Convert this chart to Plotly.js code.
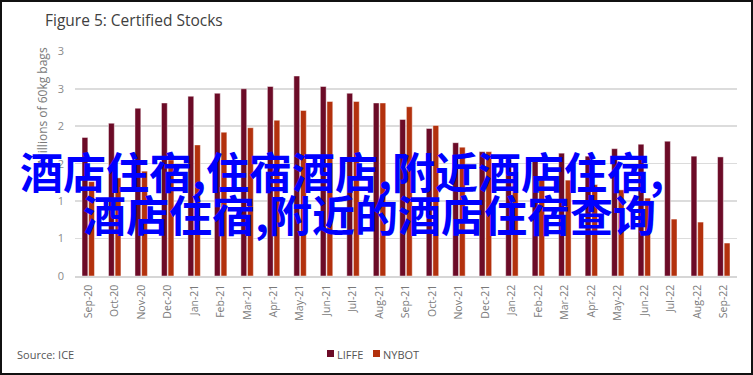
<!DOCTYPE html>
<html>
<head>
<meta charset="utf-8">
<script src="https://cdn.plot.ly/plotly-3.0.1.min.js"></script>
<style>
  html, body { margin: 0; padding: 0; background: #fff; }
  #wrap { position: relative; width: 753px; height: 375px; }
  #chart { width: 753px; height: 375px; }
  #frame { position: absolute; left: 0; top: 0; width: 753px; height: 375px; box-sizing: border-box; border: 2px solid #111; pointer-events: none; }
</style>
</head>
<body>
<div id="wrap"><div id="chart"></div><div id="frame"></div></div>
<script>
// ---- data ----
const months = ["Sep-20","Oct-20","Nov-20","Dec-20","Jan-21","Feb-21","Mar-21","Apr-21","May-21","Jun-21","Jul-21","Aug-21","Sep-21","Oct-21","Nov-21","Dec-21","Jan-22","Feb-22","Mar-22","Apr-22","May-22","Jun-22","Jul-22","Aug-22","Sep-22"];
const liffe = [1.85,2.04,2.24,2.31,2.40,2.44,2.50,2.53,2.67,2.53,2.44,2.31,2.09,1.97,1.78,1.66,1.56,1.55,1.64,1.60,1.70,1.76,1.80,1.60,1.59];
const nybot = [1.26,1.31,1.40,1.55,1.75,1.92,1.98,2.08,2.21,2.33,2.33,2.31,2.26,2.01,1.72,1.66,1.39,1.33,1.28,1.22,1.15,1.04,0.76,0.72,0.44];
const yTickVals = [0,0.5,1,1.5,2,2.5,3];
const yTickText = ["0","1","1","2","2","3","3"];
const seriesNames = ["LIFFE","NYBOT"];
const titleText = "Figure 5: Certified Stocks";
const yTitle = "Millions of 60kg bags";
const sourceText = "Source: ICE";
const overlay1 = "酒店住宿,住宿酒店,附近酒店住宿,";
const overlay2 = "酒店住宿,附近的酒店住宿查询";

// ---- layout helpers (pixel -> paper) ----
const W = 753, H = 375, L = 75, R = 16, T = 51, B = 99;
const PW = W - L - R, PH = H - T - B;
const px = x => (x - L) / PW;
const py = y => (H - B - y) / PH;

const colL = "#6c0b27", colN = "#b3310d";
const font = "Open Sans, Noto Sans, sans-serif";

const traces = [
  { type: "bar", name: seriesNames[0], x: months, y: liffe,
    marker: { color: colL, line: { color: "rgba(255,255,255,0.45)", width: 1 } }, showlegend: false },
  { type: "bar", name: seriesNames[1], x: months, y: nybot,
    marker: { color: colN, line: { color: "rgba(255,255,255,0.45)", width: 1 } }, showlegend: false }
];

const layout = {
  width: W, height: H,
  margin: { l: L, r: R, t: T, b: B, pad: 0 },
  paper_bgcolor: "#fff", plot_bgcolor: "#fff",
  barmode: "group", bargap: 0.5, bargroupgap: 0.12,
  title: { text: titleText, x: 45 / W, xanchor: "left", xref: "container",
           y: 1 - 21 / H, yanchor: "middle", yref: "container",
           font: { family: font, size: 15.5, color: "#404040" } },
  xaxis: { type: "category", tickangle: -90, showgrid: false, showline: true,
           linecolor: "#d6d6d6", linewidth: 1.5, ticks: "",
           tickfont: { family: font, size: 10.5, color: "#7a7a7a" }, ticklabelstandoff: 3 },
  yaxis: { range: [0, 3.004], tickvals: yTickVals, ticktext: yTickText, showgrid: true,
           gridcolor: "#dcdcdc", gridwidth: 1.5, zeroline: false, showline: false, ticks: "",
           tickfont: { family: font, size: 11, color: "#8a8a8a" }, ticklabelstandoff: 10 },
  shapes: [
    { type: "rect", xref: "paper", yref: "paper", x0: px(327), x1: px(334), y0: py(357), y1: py(350),
      fillcolor: colL, line: { width: 0 } },
    { type: "rect", xref: "paper", yref: "paper", x0: px(373), x1: px(380), y0: py(357), y1: py(350),
      fillcolor: colN, line: { width: 0 } }
  ],
  annotations: [
    { text: yTitle, xref: "paper", yref: "paper", x: px(42), y: py(106), textangle: -90,
      showarrow: false, xanchor: "center", yanchor: "middle",
      font: { family: font, size: 12, color: "#7a7a7a" } },
    { text: sourceText, xref: "paper", yref: "paper", x: px(15), y: py(354), showarrow: false,
      xanchor: "left", yanchor: "middle", font: { family: font, size: 11, color: "#555" } },
    { text: seriesNames[0], xref: "paper", yref: "paper", x: px(335), y: py(354), showarrow: false,
      xanchor: "left", yanchor: "middle", font: { family: font, size: 11, color: "#555" } },
    { text: seriesNames[1], xref: "paper", yref: "paper", x: px(381), y: py(354), showarrow: false,
      xanchor: "left", yanchor: "middle", font: { family: font, size: 11, color: "#555" } },
    { text: "<b>" + overlay1 + "</b>", xref: "paper", yref: "paper", x: px(18), y: py(170), showarrow: false,
      xanchor: "left", yanchor: "middle", font: { family: "Noto Sans CJK SC", size: 43, color: "#0000ff" } },
    { text: "<b>" + overlay2 + "</b>", xref: "paper", yref: "paper", x: px(81), y: py(213), showarrow: false,
      xanchor: "left", yanchor: "middle", font: { family: "Noto Sans CJK SC", size: 43, color: "#0000ff" } }
  ]
};

Plotly.newPlot("chart", traces, layout, { displayModeBar: false, staticPlot: true });
</script>
</body>
</html>
